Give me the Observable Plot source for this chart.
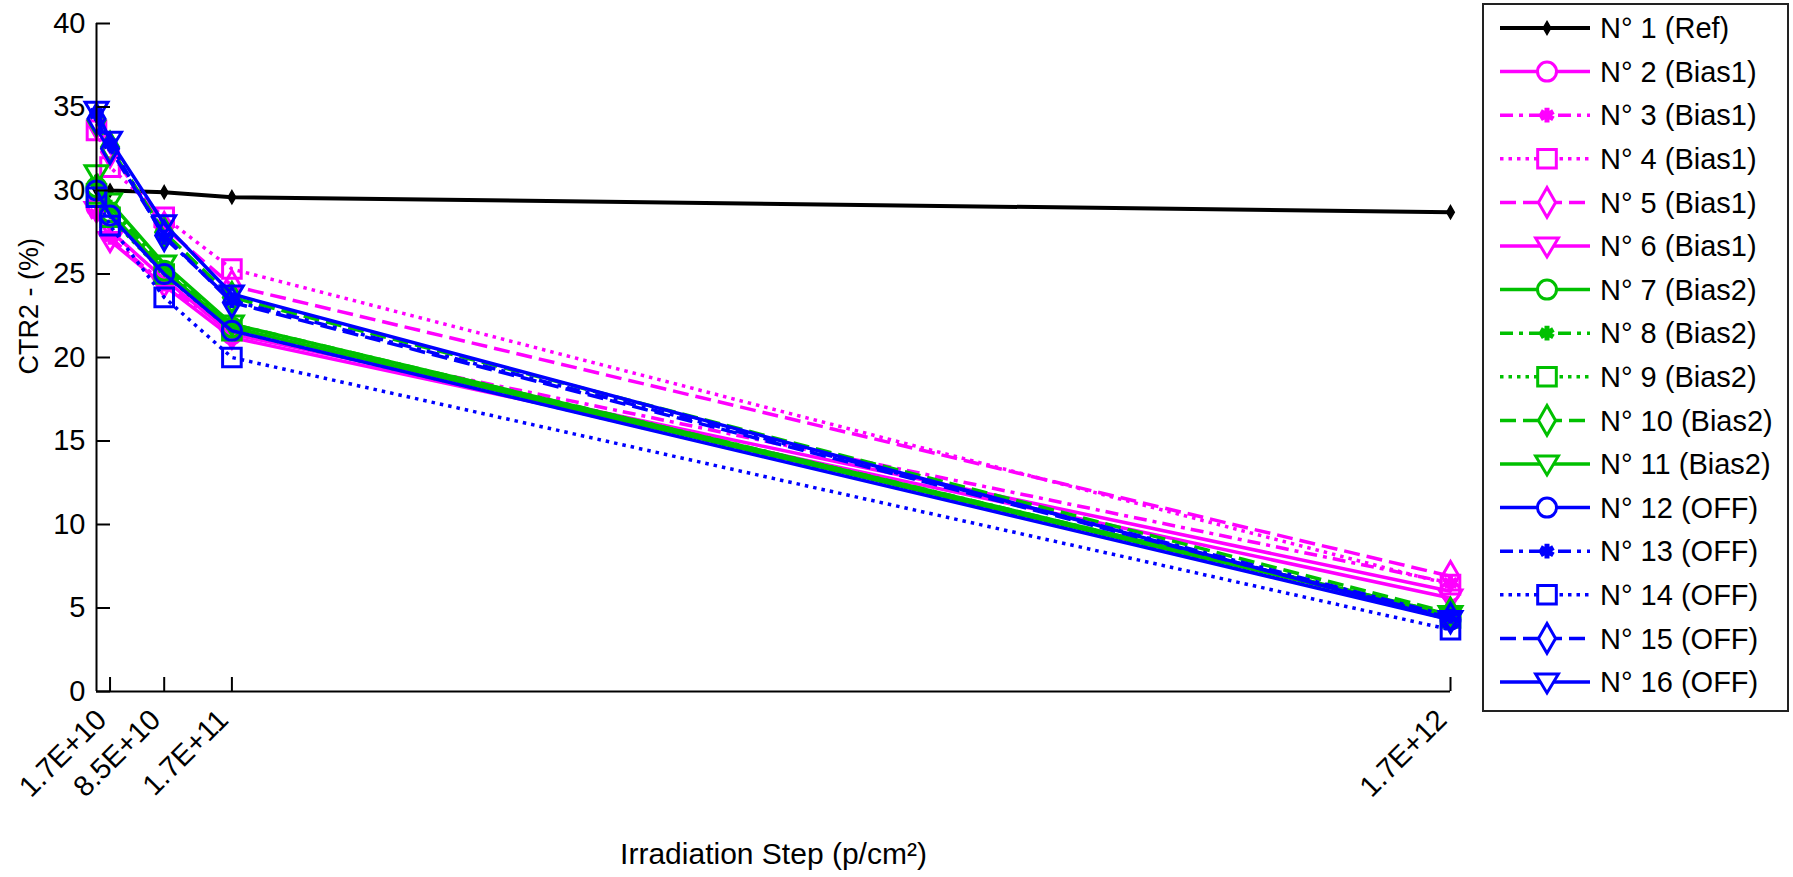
<!DOCTYPE html>
<html>
<head>
<meta charset="utf-8">
<script src="https://cdn.jsdelivr.net/npm/d3@7"></script>
<script src="https://cdn.jsdelivr.net/npm/@observablehq/plot@0.6"></script>
<style>
  html, body { margin: 0; padding: 0; background: #fff; }
  #wrap { position: relative; width: 1793px; height: 877px; font-family: "Liberation Sans", Arial, sans-serif; }
  #legend { position: absolute; left: 1482px; top: 3px; }
</style>
</head>
<body>
<div id="wrap"><div id="chart"></div><div id="legend"></div></div>
<script>
// ---- data ----
const steps = [0, 1.7e10, 8.5e10, 1.7e11, 1.7e12];
const xTickValues = [1.7e10, 8.5e10, 1.7e11, 1.7e12];
const xTickLabels = ["1.7E+10", "8.5E+10", "1.7E+11", "1.7E+12"];
const yTickValues = [0, 5, 10, 15, 20, 25, 30, 35, 40];
const xTitle = "Irradiation Step (p/cm²)";
const yTitle = "CTR2 - (%)";
const seriesNames = [
  "N° 1 (Ref)", "N° 2 (Bias1)", "N° 3 (Bias1)", "N° 4 (Bias1)", "N° 5 (Bias1)", "N° 6 (Bias1)",
  "N° 7 (Bias2)", "N° 8 (Bias2)", "N° 9 (Bias2)", "N° 10 (Bias2)", "N° 11 (Bias2)",
  "N° 12 (OFF)", "N° 13 (OFF)", "N° 14 (OFF)", "N° 15 (OFF)", "N° 16 (OFF)"
];
const n1  = [30.1, 30.0, 29.9, 29.6, 28.7];
const n2  = [29.0, 27.6, 24.7, 21.4, 6.0];
const n3  = [28.6, 27.2, 24.4, 21.6, 6.5];
const n4  = [33.6, 31.4, 28.4, 25.3, 6.4];
const n5  = [34.0, 32.3, 27.8, 24.3, 6.9];
const n6  = [28.8, 27.0, 24.3, 21.2, 5.6];
const n7  = [30.2, 28.7, 25.2, 21.8, 4.5];
const n8  = [30.5, 29.0, 25.4, 22.0, 4.6];
const n9  = [29.8, 28.4, 25.0, 21.6, 4.4];
const n10 = [34.2, 32.6, 27.5, 23.6, 4.7];
const n11 = [31.0, 29.3, 25.6, 22.0, 4.6];
const n12 = [30.0, 28.5, 25.0, 21.6, 4.3];
const n13 = [34.6, 32.8, 27.2, 23.4, 4.5];
const n14 = [29.6, 27.9, 23.6, 20.0, 3.7];
const n15 = [34.3, 32.5, 27.3, 23.3, 4.4];
const n16 = [34.8, 33.0, 28.0, 23.8, 4.3];
const seriesValues = [n1, n2, n3, n4, n5, n6, n7, n8, n9, n10, n11, n12, n13, n14, n15, n16];

// ---- styles ----
const MAG = "#ff00ff", GRN = "#00c000", BLU = "#0000ff";
const triangleDown = {
  draw(ctx, size) {
    const s = Math.sqrt(size / Math.PI);
    const w = s * 1.2, h1 = s * 0.85, h2 = s * 1.15;
    ctx.moveTo(-w, -h1); ctx.lineTo(w, -h1); ctx.lineTo(0, h2); ctx.closePath();
  }
};
const markerStyles = {
  point:    {symbol: "diamond", r: 4, fill: true, sw: 1.5},
  circle:   {symbol: "circle", r: 9.5, fill: false, sw: 3},
  star:     {symbol: "asterisk", r: 7, fill: false, sw: 5},
  square:   {symbol: "square", r: 10.5, fill: false, sw: 3},
  diamond:  {symbol: "diamond", r: 9, fill: false, sw: 3},
  triangle: {symbol: triangleDown, r: 9.5, fill: false, sw: 3}
};
const dashStyles = {
  solid: null,
  dashdot: "13,6,4,6",
  dotted: "3.5,5",
  dashed: "16,7"
};
const pattern = [
  ["solid", "circle"], ["dashdot", "star"], ["dotted", "square"], ["dashed", "diamond"], ["solid", "triangle"]
];
function styleOf(i) {
  if (i === 0) return {color: "#000", dash: null, marker: markerStyles.point, lw: 4};
  const color = i <= 5 ? MAG : i <= 10 ? GRN : BLU;
  const [d, m] = pattern[(i - 1) % 5];
  return {color, dash: dashStyles[d], marker: markerStyles[m], lw: 3.5};
}

const rows = seriesNames.map((name, i) => steps.map((x, j) => ({series: name, idx: i, x, y: seriesValues[i][j]})));

const FONT = 29;
const marks = [];
// series lines and markers
rows.forEach((data, i) => {
  const st = styleOf(i);
  marks.push(Plot.line(data, {x: "x", y: "y", stroke: st.color, strokeWidth: st.lw, strokeDasharray: st.dash, strokeLinecap: "butt", strokeLinejoin: "miter"}));
  marks.push(Plot.dot(data, {x: "x", y: "y", symbol: st.marker.symbol, r: st.marker.r,
    stroke: st.color, fill: st.marker.fill ? st.color : "none", strokeWidth: st.marker.sw}));
});
// axes lines
marks.push(Plot.ruleX([0], {stroke: "#000", strokeWidth: 2}));
marks.push(Plot.ruleY([0], {stroke: "#000", strokeWidth: 2}));
// inward ticks
marks.push(Plot.ruleX(xTickValues, {x: d => d, y1: () => 0, y2: () => 0, insetTop: -14, stroke: "#000", strokeWidth: 2}));
marks.push(Plot.ruleY(yTickValues, {y: d => d, x1: () => 0, x2: () => 0, insetRight: -14, stroke: "#000", strokeWidth: 2}));
// tick labels
marks.push(Plot.axisY({ticks: yTickValues, tickSize: 0, tickPadding: 11, fontSize: FONT, label: null, tickFormat: d => String(d)}));
marks.push(Plot.text(xTickValues, {x: d => d, frameAnchor: "bottom", text: (d, i) => xTickLabels[i],
  rotate: -45, textAnchor: "end", fontSize: FONT, dx: -2, dy: 30, fill: "#000"}));
// titles
marks.push(Plot.text([xTitle], {frameAnchor: "bottom", text: d => d, dy: 172, fontSize: 30, fill: "#000"}));
marks.push(Plot.text([yTitle], {frameAnchor: "left", text: d => d, rotate: -90, dx: -67, dy: 17, fontSize: 27, fill: "#000"}));

const chart = Plot.plot({
  width: 1793,
  height: 877,
  marginLeft: 96,
  marginRight: 343,
  marginTop: 23,
  marginBottom: 186,
  style: {fontFamily: '"Liberation Sans", Arial, sans-serif', background: "#fff", color: "#000", overflow: "visible"},
  x: {type: "linear", domain: [0, 1.7e12], axis: null},
  y: {type: "linear", domain: [0, 40], axis: null},
  marks
});
document.getElementById("chart").appendChild(chart);

// ---- legend ----
const LW = 307, LH = 709;
const svg = d3.create("svg").attr("width", LW).attr("height", LH)
  .style("font-family", '"Liberation Sans", Arial, sans-serif');
svg.append("rect").attr("x", 1).attr("y", 1).attr("width", LW - 2).attr("height", LH - 2)
  .attr("fill", "#fff").attr("stroke", "#222").attr("stroke-width", 2);
seriesNames.forEach((name, i) => {
  const st = styleOf(i);
  const cy = 25 + i * 43.6;
  const g = svg.append("g");
  g.append("line").attr("x1", 18).attr("x2", 108).attr("y1", cy).attr("y2", cy)
    .attr("stroke", st.color).attr("stroke-width", st.lw).attr("stroke-dasharray", st.dash);
  const sym = typeof st.marker.symbol === "string"
    ? {circle: d3.symbolCircle, asterisk: d3.symbolAsterisk, square: d3.symbolSquare, diamond: d3.symbolDiamond}[st.marker.symbol]
    : st.marker.symbol;
  g.append("path").attr("transform", `translate(65,${cy})`)
    .attr("d", d3.symbol(sym, Math.PI * st.marker.r * st.marker.r)())
    .attr("fill", st.marker.fill ? st.color : "#fff").attr("stroke", st.color).attr("stroke-width", st.marker.sw);
  g.append("text").attr("x", 118).attr("y", cy).attr("dy", "0.35em").attr("font-size", FONT)
    .attr("fill", "#000").text(name);
});
document.getElementById("legend").appendChild(svg.node());
</script>
</body>
</html>
